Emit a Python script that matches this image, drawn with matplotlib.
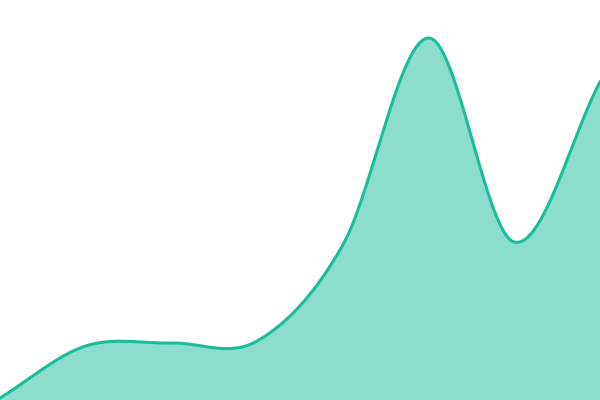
import numpy as np
from matplotlib import pyplot as plt

# data points (evenly spaced along x)
x_pts = np.arange(8)
y_pts = np.array([2, 54, 57, 59, 155, 362, 158, 318])


def catmull_rom(xs, ys, n=60):
    # uniform catmull-rom, phantom endpoints extrapolated
    p = np.concatenate([[2 * ys[0] - ys[1]], ys, [2 * ys[-1] - ys[-2]]])
    out_x = []
    out_y = []
    for i in range(len(ys) - 1):
        p0, p1, p2, p3 = p[i], p[i + 1], p[i + 2], p[i + 3]
        m1 = (p2 - p0) / 2
        m2 = (p3 - p1) / 2
        t = np.linspace(0, 1, n, endpoint=False)
        h00 = 2 * t**3 - 3 * t**2 + 1
        h10 = t**3 - 2 * t**2 + t
        h01 = -2 * t**3 + 3 * t**2
        h11 = t**3 - t**2
        out_y.append(h00 * p1 + h10 * m1 + h01 * p2 + h11 * m2)
        out_x.append(xs[i] + t * (xs[i + 1] - xs[i]))
    out_x.append([xs[-1]])
    out_y.append([ys[-1]])
    return np.concatenate(out_x), np.concatenate(out_y)


sx, sy = catmull_rom(x_pts, y_pts)

fig = plt.figure(figsize=(6, 4), dpi=100)
ax = fig.add_axes([0, 0, 1, 1])
ax.fill_between(sx, 0, sy, color='#1abc9c', alpha=0.5, linewidth=0)
ax.plot(sx, sy, color='#1abc9c', linewidth=2.2)
ax.set_xlim(0, 7)
ax.set_ylim(0, 400)
ax.axis('off')
fig.savefig('out.png', dpi=100)
